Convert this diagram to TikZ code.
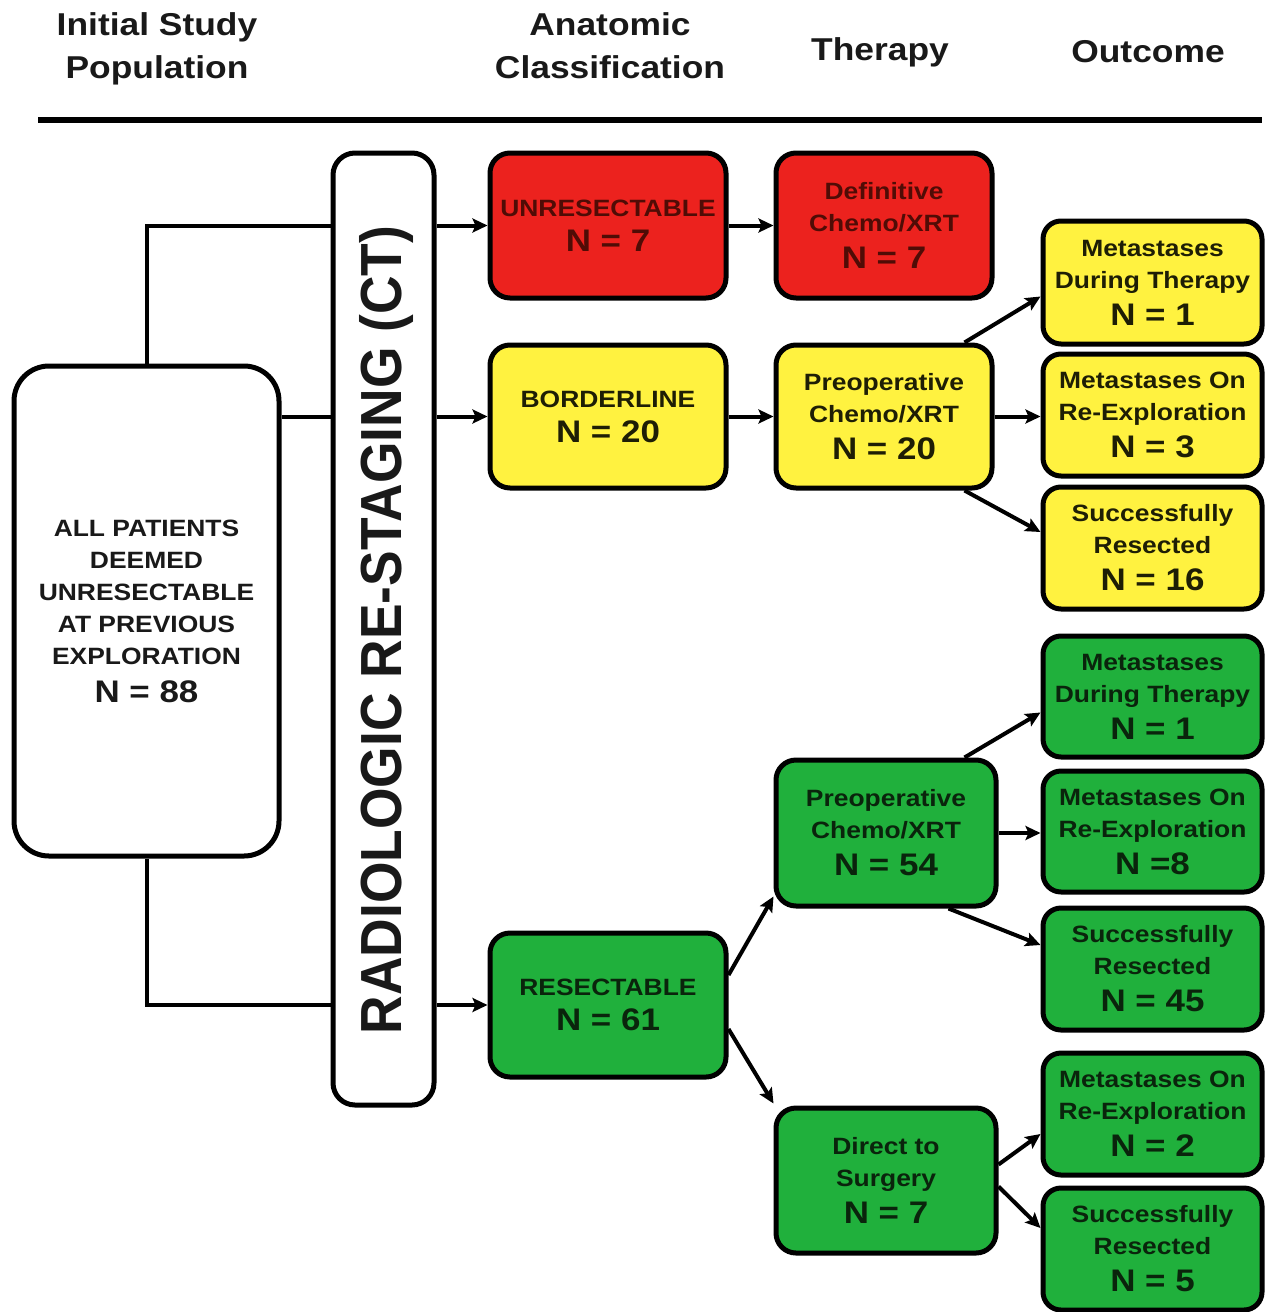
\documentclass[tikz,border=0pt]{standalone}
\usepackage{fontspec}
\setmainfont{Liberation Sans}[FakeStretch=1.12]
\newfontfamily\radfont{Liberation Sans}[FakeStretch=0.92]
\usetikzlibrary{arrows.meta}
\definecolor{boxred}{RGB}{236,34,30}
\definecolor{boxyel}{RGB}{255,242,64}
\definecolor{boxgrn}{RGB}{32,176,60}
\definecolor{txtred}{RGB}{80,12,6}
\definecolor{txtyel}{RGB}{30,30,5}
\definecolor{txtgrn}{RGB}{10,36,12}
\newcommand{\nline}[1]{{\fontsize{15.6}{18}\selectfont #1}}
\begin{document}
\begin{tikzpicture}[x=0.5pt,y=-0.5pt,
  box/.style={draw=black,line width=2.5pt,rounded corners=10pt,inner sep=0pt,align=center,
    font=\bfseries\fontsize{11.8}{16}\selectfont},
  redbox/.style={box,fill=boxred,text=txtred},
  yelbox/.style={box,fill=boxyel,text=txtyel},
  grnbox/.style={box,fill=boxgrn,text=txtgrn},
  clsbox/.style={minimum width=118pt,minimum height=72pt},
  thrbox/.style={minimum width=108pt,minimum height=72pt},
  thrbox2/.style={minimum width=110pt,minimum height=73pt},
  outbox/.style={minimum width=109.5pt,minimum height=61pt,rounded corners=9pt},
  hdr/.style={align=center,inner sep=0pt,text=black!90,font=\bfseries\fontsize{15.8}{21.5}\selectfont},
  conn/.style={line width=2pt},
  arr/.style={conn,-{Stealth[length=7.5pt,width=7pt,inset=1.5pt]}}]
\useasboundingbox (0,0) rectangle (1274,1312);
% headers
\node[hdr] (h1) at (157,49) {Initial Study\\Population};
\node[hdr] (h2) at (610,46) {Anatomic\\Classification};
\node[hdr] (h3) at (880,52) {Therapy};
\node[hdr] (h4) at (1148,52) {Outcome};
\coordinate (rl) at (38,120);
\coordinate (rr) at (1262,120);
\draw[line width=3pt] (rl) -- (rr);
% left box
\node[box,fill=white,text=black!90,rounded corners=17.5pt,minimum width=132.5pt,minimum height=245pt] (all) at (146.5,611)
  {ALL PATIENTS\\DEEMED\\UNRESECTABLE\\AT PREVIOUS\\EXPLORATION\\[3pt]\nline{N = 88}};
% radiologic
\node[box,fill=white,rounded corners=11pt,minimum width=50.5pt,minimum height=476pt] (rad) at (383.5,629) {};
\node[rotate=90,inner sep=0pt,text=black!90,font=\radfont\bfseries\fontsize{29}{30}\selectfont] (radtxt) at (387,630) {RADIOLOGIC RE-STAGING (CT)};
% classification
\node[redbox,clsbox,minimum height=72.5pt] (unres) at (608,225.5) {UNRESECTABLE\\[1.5pt]\nline{N = 7}};
\node[yelbox,clsbox,minimum height=71.5pt] (border) at (608,416.5) {BORDERLINE\\[1.5pt]\nline{N = 20}};
\node[grnbox,clsbox] (resect) at (608,1005) {RESECTABLE\\[1.5pt]\nline{N = 61}};
% therapy
\node[redbox,thrbox,minimum height=72.5pt] (defin) at (884,225.5) {Definitive\\Chemo/XRT\\[2.5pt]\nline{N = 7}};
\node[yelbox,thrbox,minimum height=71.5pt] (prey) at (884,416.5) {Preoperative\\Chemo/XRT\\[2.5pt]\nline{N = 20}};
\node[grnbox,thrbox2] (preg) at (886,833) {Preoperative\\Chemo/XRT\\[2.5pt]\nline{N = 54}};
\node[grnbox,thrbox2,minimum height=72.5pt] (direct) at (886,1180.5) {Direct to\\Surgery\\[2.5pt]\nline{N = 7}};
% outcomes
\node[yelbox,outbox,minimum height=61.5pt] (y1) at (1152.5,282.5) {Metastases\\During Therapy\\[2.5pt]\nline{N = 1}};
\node[yelbox,outbox] (y2) at (1152.5,415) {Metastases On\\Re-Exploration\\[2.5pt]\nline{N = 3}};
\node[yelbox,outbox] (y3) at (1152.5,548) {Successfully\\Resected\\[2.5pt]\nline{N = 16}};
\node[grnbox,outbox,minimum height=60.5pt] (g1) at (1152.5,696.5) {Metastases\\During Therapy\\[2.5pt]\nline{N = 1}};
\node[grnbox,outbox,minimum height=60.5pt] (g2) at (1152.5,831.5) {Metastases On\\Re-Exploration\\[2.5pt]\nline{N =8}};
\node[grnbox,outbox] (g3) at (1152.5,969) {Successfully\\Resected\\[2.5pt]\nline{N = 45}};
\node[grnbox,outbox] (g4) at (1152.5,1114) {Metastases On\\Re-Exploration\\[2.5pt]\nline{N = 2}};
\node[grnbox,outbox] (g5) at (1152.5,1249) {Successfully\\Resected\\[2.5pt]\nline{N = 5}};
% connectors from left box
\draw[conn] (all.north) |- (rad.west |- unres.west);
\draw[conn] (all.east |- border.west) -- (rad.west |- border.west);
\draw[conn] (all.south) |- (rad.west |- resect.west);
% rad to classes
\draw[arr] (rad.east |- unres.west) -- (unres.west);
\draw[arr] (rad.east |- border.west) -- (border.west);
\draw[arr] (rad.east |- resect.west) -- (resect.west);
% classes to therapy
\draw[arr] (unres.east) -- (defin.west);
\draw[arr] (border.east) -- (prey.west);
\draw[arr] ([yshift=15pt]resect.east) -- ([yshift=6pt]preg.south west);
\draw[arr] ([yshift=-12pt]resect.east) -- ([yshift=1pt]direct.north west);
% therapy to outcomes
\draw[arr] ([xshift=-15pt]prey.north east) -- ([yshift=-7pt]y1.west);
\draw[arr] (prey.east) -- (prey.east -| y2.west);
\draw[arr] ([xshift=-15pt]prey.south east) -- ([yshift=8pt]y3.west);
\draw[arr] ([xshift=-17pt]preg.north east) -- ([yshift=-8pt]g1.west);
\draw[arr] (preg.east) -- (preg.east -| g2.west);
\draw[arr] ([xshift=-25pt]preg.south east) -- ([yshift=12pt]g3.west);
\draw[arr] ([yshift=8pt]direct.east) -- ([yshift=-10pt]g4.west);
\draw[arr] ([yshift=-3pt]direct.east) -- ([yshift=10.5pt]g5.west);
\end{tikzpicture}
\end{document}
